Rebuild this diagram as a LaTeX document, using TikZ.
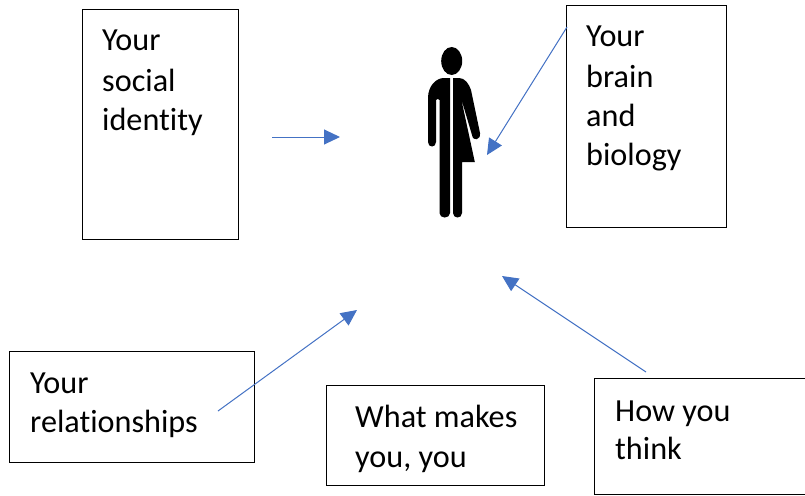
\documentclass[tikz,border=0pt]{standalone}
\usepackage{fontspec}
\setmainfont{Carlito}[Ligatures=NoCommon]
\usetikzlibrary{arrows.meta}
\definecolor{arrowblue}{HTML}{4472C4}
\tikzset{
  x=1pt,y=-1pt,
  box/.style={draw=black,line width=1pt,fill=white},
  label/.style={anchor=base west,inner sep=0pt,yshift=-1pt,font=\fontsize{32.2}{38}\selectfont},
  link/.style={draw=arrowblue,line width=1pt,-{Triangle[length=16pt,width=15pt,fill=arrowblue]}},
  figure/.style={fill=black,draw=none}
}
\begin{document}
\begin{tikzpicture}
\useasboundingbox (0,0) rectangle (805,495);
\draw[box] (82,10) rectangle (238,239);
\draw[box] (566,6) rectangle (726,227);
\draw[box] (9,351) rectangle (254,462);
\draw[box] (326,385) rectangle (544,485);
\draw[box] (594,378) rectangle (805.5,494);
\node[label] (s1) at (102,50) {Your};
\node[label] (s2) at (102,90) {social};
\node[label] (s3) at (102,129) {identity};
\node[label] (b1) at (586,46) {Your};
\node[label] (b2) at (586,86) {brain};
\node[label] (b3) at (586,125) {and};
\node[label] (b4) at (586,164) {biology};
\node[label] (r1) at (30,392) {Your};
\node[label] (r2) at (30,431) {relationships};
\node[label] (w1) at (355,426) {What makes};
\node[label] (w2) at (355,466) {you, you};
\node[label] (h1) at (615,420) {How you};
\node[label] (h2) at (615,458) {think};
% figure
\fill[figure] (451.7,61) ellipse [x radius=10.5,y radius=14];
\fill[figure] (450,78) -- (450,213) .. controls (450,219) and (439.5,219) .. (439.5,213)
  -- (439.5,100) .. controls (439.5,99) and (436,98) .. (436,100)
  -- (436,142) .. controls (436,148) and (428,148) .. (428,142)
  -- (428,98) .. controls (428,86) and (436,78) .. (444,78) -- cycle;
\fill[figure] (453,78) -- (459,78) .. controls (465,78) and (469,84) .. (471,90)
  -- (480,133) .. controls (481,140) and (473,142) .. (472,135)
  -- (461,98) -- (474.8,162) -- (462,162) -- (462,213)
  .. controls (462,219) and (453,219) .. (453,213) -- cycle;
% arrows
\coordinate (a1s) at (272,137); \coordinate (a1e) at (340,137);
\coordinate (a2s) at (567,27);  \coordinate (a2e) at (487,155);
\coordinate (a3s) at (218,411); \coordinate (a3e) at (357,310);
\coordinate (a4s) at (646,372); \coordinate (a4e) at (502,276);
\draw[link] (a1s) -- (a1e);
\draw[link] (a2s) -- (a2e);
\draw[link] (a3s) -- (a3e);
\draw[link] (a4s) -- (a4e);
\end{tikzpicture}
\end{document}
